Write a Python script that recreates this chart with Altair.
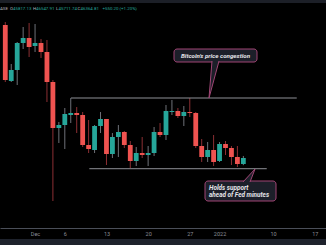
import altair as alt
import pandas as pd
import numpy as np

# ---------------- data ----------------
dates = [
    "2021-11-26", "2021-11-27", "2021-11-28", "2021-11-29", "2021-11-30",
    "2021-12-01", "2021-12-02", "2021-12-03", "2021-12-04", "2021-12-05",
    "2021-12-06", "2021-12-07", "2021-12-08", "2021-12-09", "2021-12-10",
    "2021-12-11", "2021-12-12", "2021-12-13", "2021-12-14", "2021-12-15",
    "2021-12-16", "2021-12-17", "2021-12-18", "2021-12-19", "2021-12-20",
    "2021-12-21", "2021-12-22", "2021-12-23", "2021-12-24", "2021-12-25",
    "2021-12-26", "2021-12-27", "2021-12-28", "2021-12-29", "2021-12-30",
    "2021-12-31", "2022-01-01", "2022-01-02", "2022-01-03", "2022-01-04",
    "2022-01-05",
]
opens = [
    58466, 53370, 54371, 56828, 57283,
    56555, 56828, 56009, 53279, 49093, 49366, 50276, 50458, 50276, 47546,
    47091, 49275, 49912, 46727, 48274, 48729, 47546, 46090, 46818, 46636,
    46818, 48729, 48456, 50549, 50640, 50185, 50549, 50458, 47455, 46454, 47091,
    46090, 47637, 47273, 46454, 45817.13,
]
highs = [
    58739, 54917, 56919, 58284, 58648,
    58557, 57192, 57101, 53461, 49639, 50913, 51823, 51004, 50549, 49821,
    49366, 50549, 49912, 48638, 49366, 48820, 47910, 47364, 48274, 47455,
    49184, 49548, 51186, 51641, 50913, 51095, 51823, 50549, 48092, 47819, 48456,
    47819, 47910, 47455, 47455, 46547.91,
]
lows = [
    53279, 53279, 53006, 56282, 55554,
    56009, 55463, 51459, 42450, 47728, 47182, 49548, 48638, 47364, 46818,
    46818, 48638, 45726, 46363, 46454, 47273, 45453, 45635, 46363, 45635,
    46545, 48274, 48001, 50276, 50003, 49275, 50094, 47273, 45999, 45999, 45635,
    45999, 46636, 45726, 45544, 45711.74,
]
closes = [
    53461, 54371, 56828, 57283, 56464,
    56828, 56009, 53279, 49093, 49366, 50367, 50458, 50276, 47546, 47182,
    49275, 49912, 46727, 48274, 48729, 47546, 46090, 46818, 46636, 46818,
    48729, 48456, 50640, 50640, 50185, 50549, 50458, 47455, 46454, 47091, 45999,
    47637, 47273, 46454, 45817, 46364.81,
]

tick_days = [0, 5, 12, 19, 26, 31, 40, 47]          # days after 1 Dec 2021
tick_labels = ["Dec", "6", "13", "20", "27", "2022", "10", "17"]

# horizontal levels drawn on the chart (price, from-day, to-day)
level_names = ["congestion top", "support"]
level_prices = [51823, 45389]
level_from = [6.03, 9.12]
level_to = [43.97, 38.93]

# ---------------- styling ----------------
W, H = 326, 228
UP, DOWN = "#26a69a", "#ef5350"
UP_WICK, DOWN_WICK = "#6e7178", "#8c2f33"
BOX_FILL, BOX_STROKE = "#1c1f29", "#a04574"
FONT = "Roboto"

df = pd.DataFrame({"date": dates, "open": opens, "high": highs,
                   "low": lows, "close": closes})
df["day"] = (pd.to_datetime(df["date"]) - pd.Timestamp("2021-12-01")).dt.days
df["dir"] = np.where(df["close"] >= df["open"], "up", "down")

lv = pd.DataFrame({"name": level_names, "price": level_prices,
                   "d0": level_from, "d1": level_to})

xs = alt.Scale(domain=[-31 / 6.14, 295 / 6.14], nice=False, zero=False)
ys = alt.Scale(domain=[39993, 60741], nice=False, zero=False)

lab_arr = "[" + ",".join(f"'{t}'" for t in tick_labels) + "]"
val_arr = "[" + ",".join(str(v) for v in tick_days) + "]"
xaxis = alt.Axis(values=tick_days, labelExpr=f"{lab_arr}[indexof({val_arr}, datum.value)]",
                 title=None, grid=False, ticks=False, domain=True,
                 domainColor="#4a4e58", domainWidth=1, labelColor="#8a8d96",
                 labelFontSize=5.5, labelFont=FONT, labelPadding=3,
                 labelFlush=False, labelOverlap=False)

one = pd.DataFrame({"a": [0]})

# bands
top_band = alt.Chart(one).mark_rect(color="#1c1f27").encode(
    x=alt.value(0), x2=alt.value(W), y=alt.value(0), y2=alt.value(3))
bottom_band = alt.Chart(one).mark_rect(color="#1e222c").encode(
    x=alt.value(0), x2=alt.value(W), y=alt.value(239), y2=alt.value(250))

wicks = alt.Chart(df).mark_rule(strokeWidth=1).encode(
    x=alt.X("day:Q", scale=xs, axis=xaxis),
    y=alt.Y("low:Q", scale=ys, axis=None),
    y2="high:Q",
    color=alt.Color("dir:N", scale=alt.Scale(domain=["up", "down"],
                                             range=[UP_WICK, DOWN_WICK]), legend=None),
)
bodies = alt.Chart(df).mark_bar(size=4.8).encode(
    x=alt.X("day:Q", scale=xs),
    y=alt.Y("open:Q", scale=ys, axis=None),
    y2="close:Q",
    color=alt.Color("dir:N", scale=alt.Scale(domain=["up", "down"],
                                             range=[UP, DOWN]), legend=None),
)
levels = alt.Chart(lv).mark_rule(color="#8e9096", strokeWidth=1).encode(
    x=alt.X("d0:Q", scale=xs), x2="d1:Q",
    y=alt.Y("price:Q", scale=ys, axis=None),
)

# callouts
def box(x0, x1, y0, y1):
    return alt.Chart(one).mark_rect(fill=BOX_FILL, stroke=BOX_STROKE, strokeWidth=1,
                                    cornerRadius=3).encode(
        x=alt.value(x0), x2=alt.value(x1), y=alt.value(y0), y2=alt.value(y1))

def pointer(pts):
    d = pd.DataFrame({"px": [p[0] for p in pts], "py": [p[1] for p in pts],
                      "i": list(range(len(pts)))})
    return alt.Chart(d).mark_line(fill=BOX_FILL, stroke=BOX_STROKE, strokeWidth=1).encode(
        x=alt.X("px:Q", scale=None),
        y=alt.Y("py:Q", scale=None),
        order="i:Q")

def txt(s, x, y, color, size, align="left", italic=False, bold=False):
    kw = {}
    if italic:
        kw["fontStyle"] = "italic"
    if bold:
        kw["fontWeight"] = "bold"
    return alt.Chart(one).mark_text(text=s, align=align, baseline="middle",
                                    font=FONT, fontSize=size, color=color, **kw).encode(
        x=alt.value(x), y=alt.value(y))

box1 = box(174, 257, 49, 62)
ptr1 = pointer([(212, 61), (209, 98), (219, 61)])
t1 = txt("Bitcoin's price congestion", 215.5, 55.8, "#e6e6ea", 6.2, "center", True, True)

box2 = box(205, 276, 181, 201)
ptr2 = pointer([(243, 182), (255, 169), (250, 182)])
t2a = txt("Holds support", 209, 187.8, "#e6e6ea", 6.4, "left", True, True)
t2b = txt("ahead of Fed minutes", 209, 194.6, "#e6e6ea", 6.4, "left", True, True)

GREY, TEAL = "#b2b5be", "#26a69a"
hs = 4.4
header = [
    txt("ASE", 0, 9, GREY, hs),
    txt("O", 10, 9, GREY, hs), txt("45817.13", 13, 9, TEAL, hs),
    txt("H", 33, 9, GREY, hs), txt("46547.91", 36, 9, TEAL, hs),
    txt("L", 56, 9, GREY, hs), txt("45711.74", 58.5, 9, TEAL, hs),
    txt("C", 77.5, 9, GREY, hs), txt("46364.81", 80.5, 9, TEAL, hs),
    txt("+550.20 (+1.20%)", 102.5, 9, TEAL, hs),
]

chart = alt.layer(
    wicks, top_band, bottom_band, levels, bodies,
    box1, ptr1, t1, box2, ptr2, t2a, t2b, *header,
).resolve_scale(color="independent").properties(
    width=W, height=H, background="#000000",
    padding={"left": 0, "top": 0, "right": 0, "bottom": 17},
    autosize=alt.AutoSizeParams(type="none"),
).configure_view(stroke=None)

chart.save("out.html", embed_options={"renderer": "svg", "actions": False})
